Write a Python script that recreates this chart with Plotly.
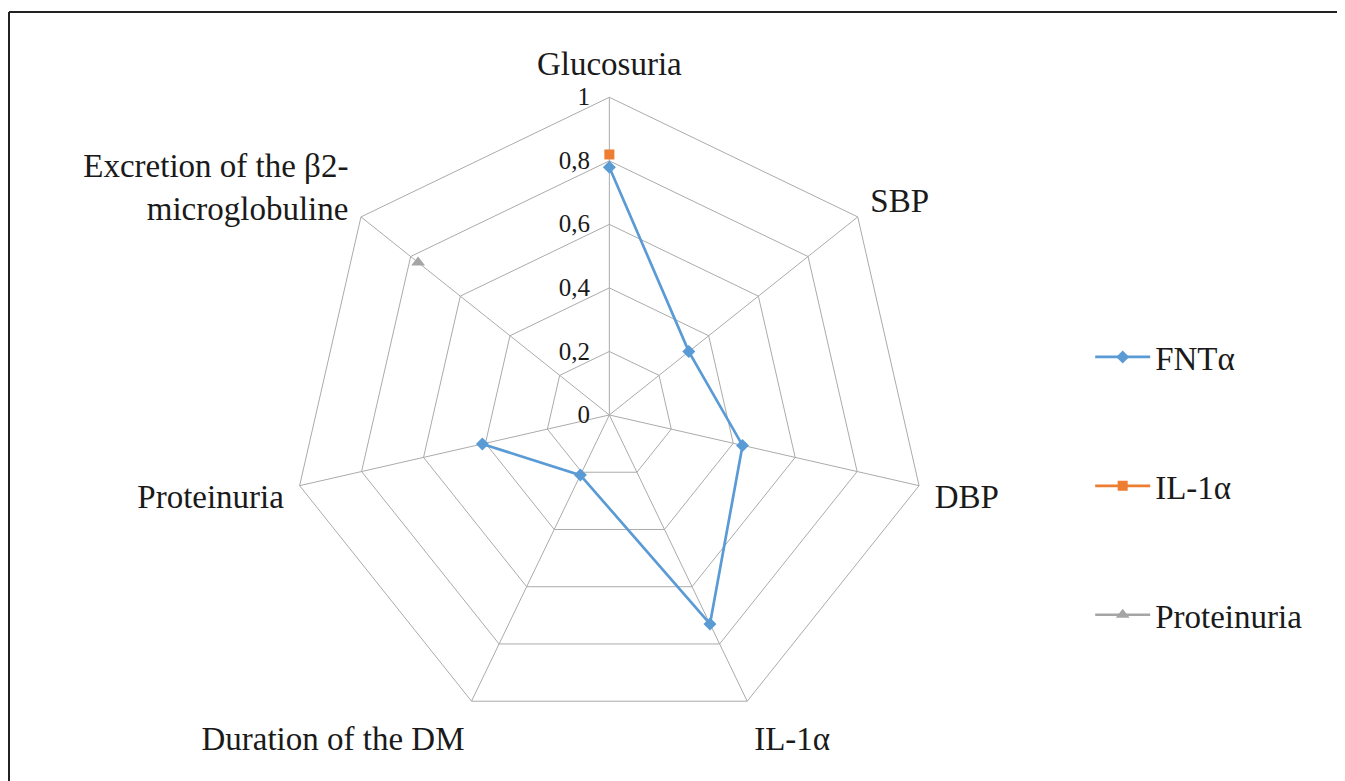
import plotly.graph_objects as go

# Categories (clockwise from the top)
categories = [
    "Glucosuria",
    "SBP",
    "DBP",
    "IL-1α",
    "Duration of the DM",
    "Proteinuria",
    "Excretion of the β2-<br>microglobuline",
]

# Series values (None = no value)
fnt_alpha = [0.78, 0.32, 0.43, 0.73, 0.21, 0.41, None]
il_1_alpha = [0.82, None, None, None, None, None, None]
proteinuria = [None, None, None, None, None, None, 0.77]

series = [
    ("FNTα", fnt_alpha, "#5B9BD5", "diamond", 10),
    ("IL-1α", il_1_alpha, "#ED7D31", "square", 10),
    ("Proteinuria", proteinuria, "#A5A5A5", "triangle-up", 12),
]

FONT = "Liberation Serif, Times New Roman, DejaVu Serif, serif"
GRID = "#ABABAB"
W, H = 1345, 781
OFF = 8  # page body margin shifts the figure by this much

fig = go.Figure()
for i, (name, vals, color, symbol, size) in enumerate(series):
    fig.add_trace(
        go.Scatterpolar(
            r=vals,
            theta=categories,
            mode="lines+markers",
            name=name,
            legendgroup=f"g{i}",
            connectgaps=False,
            line=dict(color=color, width=2.7),
            marker=dict(color=color, symbol=symbol, size=size),
        )
    )

fig.update_layout(
    width=W,
    height=H,
    margin=dict(l=0, r=0, t=0, b=0),
    paper_bgcolor="white",
    plot_bgcolor="white",
    separators=", ",
    font=dict(family=FONT, color="#1a1a1a", size=33),
    polar=dict(
        domain=dict(x=[0.2109, 0.6833], y=[0.0721, 0.8857]),
        bgcolor="white",
        gridshape="linear",
        angularaxis=dict(
            rotation=90,
            direction="clockwise",
            showline=True,
            linecolor=GRID,
            linewidth=1,
            gridcolor=GRID,
            gridwidth=1,
            ticks="outside",
            ticklen=9,
            tickcolor="rgba(0,0,0,0)",
            tickfont=dict(family=FONT, size=33, color="#1a1a1a"),
        ),
        radialaxis=dict(
            range=[0, 1],
            tickvals=[0, 0.2, 0.4, 0.6, 0.8, 1],
            angle=90,
            side="counterclockwise",
            tickangle=90,
            showline=False,
            gridcolor=GRID,
            gridwidth=1,
            ticks="outside",
            ticklen=10,
            tickcolor="rgba(0,0,0,0)",
            tickfont=dict(family=FONT, size=25, color="#1a1a1a"),
        ),
    ),
    legend=dict(
        x=0.8046,
        y=0.589,
        xanchor="left",
        yanchor="top",
        tracegroupgap=83,
        itemwidth=55,
        font=dict(family=FONT, size=33, color="#1a1a1a"),
        bgcolor="rgba(0,0,0,0)",
    ),
    showlegend=True,
)

# Frame lines (top and left edges only, as in the cropped original)
fx = (9 - OFF) / W
fy = 1 - (12 - OFF) / H
fig.add_shape(type="line", xref="paper", yref="paper",
              x0=fx, x1=1.0, y0=fy, y1=fy,
              line=dict(color="#222222", width=2))
fig.add_shape(type="line", xref="paper", yref="paper",
              x0=fx, x1=fx, y0=0.0, y1=fy,
              line=dict(color="#222222", width=2))

fig.write_html("out.html")
